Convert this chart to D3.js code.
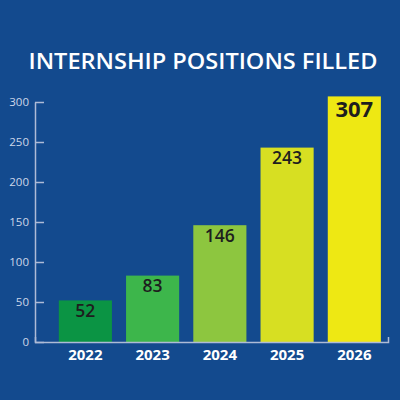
<!DOCTYPE html>
<html>
<head>
<meta charset="utf-8">
<script src="https://cdn.jsdelivr.net/npm/d3@7"></script>
<style>
  html, body { margin: 0; padding: 0; background: #134a8e; }
  svg { display: block; font-family: 'Open Sans', sans-serif; }
</style>
</head>
<body>
<div id="chart"></div>
<script>
'use strict';

let WIDTH = 400;
let HEIGHT = 400;

let TITLE = 'INTERNSHIP POSITIONS FILLED';
let YEARS = ['2022', '2023', '2024', '2025', '2026'];
let FILLED = [52, 83, 146, 243, 307];
let BAR_COLORS = ['#0b9444', '#3db64b', '#8dc63f', '#d7df22', '#eee813'];
let Y_TICKS = [0, 50, 100, 150, 200, 250, 300];

let AXIS_COLOR = '#aebbd6';
let TICK_TEXT = '#cdd6e8';

function drawChart () {
    let svg = d3.select('#chart')
        .append('svg')
        .attr('width', WIDTH)
        .attr('height', HEIGHT);

    svg.append('rect')
        .attr('width', WIDTH)
        .attr('height', HEIGHT)
        .attr('fill', '#134a8e');

    svg.append('text')
        .attr('x', 203)
        .attr('y', 68.5)
        .attr('text-anchor', 'middle')
        .attr('fill', '#ffffff')
        .style('font-size', '22px')
        .style('font-weight', 600)
        .attr('textLength', 349)
        .attr('lengthAdjust', 'spacingAndGlyphs')
        .text(TITLE);

    let x = d3.scaleBand()
        .domain(YEARS)
        .range([35, 388])
        .paddingInner(0.21)
        .paddingOuter(0.23)
        .align(0.77);

    let y = d3.scaleLinear()
        .domain([0, 300])
        .range([342, 102]);

    // y axis, ticks pointing inward
    let yAxis = svg.append('g')
        .attr('transform', 'translate(35, 0)')
        .call(d3.axisLeft(y)
            .tickValues(Y_TICKS)
            .tickSize(-9)
            .tickSizeOuter(0)
            .tickPadding(6));

    yAxis.selectAll('path, line')
        .attr('stroke', AXIS_COLOR)
        .attr('stroke-width', 1.5);
    yAxis.selectAll('text')
        .attr('fill', TICK_TEXT)
        .style('font-size', '11.5px')
        .style('font-family', "'Open Sans', sans-serif");

    // x axis with the small upturned end
    let xAxis = svg.append('g')
        .attr('transform', 'translate(0, 342)')
        .call(d3.axisBottom(x)
            .tickSize(0)
            .tickSizeOuter(-5)
            .tickPadding(7));

    xAxis.select('.domain')
        .attr('stroke', AXIS_COLOR)
        .attr('stroke-width', 1.5);
    xAxis.selectAll('text')
        .attr('fill', '#ffffff')
        .style('font-size', '15px')
        .style('font-weight', 700)
        .style('font-family', "'Open Sans', sans-serif");

    let data = YEARS.map((yr, i) => ({
        year: yr,
        value: FILLED[i],
        color: BAR_COLORS[i],
    }));

    svg.selectAll('.bar')
        .data(data)
        .enter()
        .append('rect')
        .attr('class', 'bar')
        .attr('x', d => x(d.year))
        .attr('y', d => y(d.value))
        .attr('width', x.bandwidth())
        .attr('height', d => y(0) - y(d.value))
        .attr('fill', d => d.color);

    let maxVal = d3.max(FILLED);

    svg.selectAll('.val')
        .data(data)
        .enter()
        .append('text')
        .attr('class', 'val')
        .attr('x', d => x(d.year) + x.bandwidth() / 2)
        .attr('y', d => y(d.value) + (d.value == maxVal ? 20.5 : 16.5))
        .attr('text-anchor', 'middle')
        .attr('fill', '#1e1e1e')
        .style('font-size', d => d.value == maxVal ? '22px' : '17.5px')
        .style('font-weight', d => d.value == maxVal ? 700 : 600)
        .text(d => d.value);

    // keep the axes above the bars
    yAxis.raise();
    xAxis.raise();
}

drawChart();
</script>
</body>
</html>
